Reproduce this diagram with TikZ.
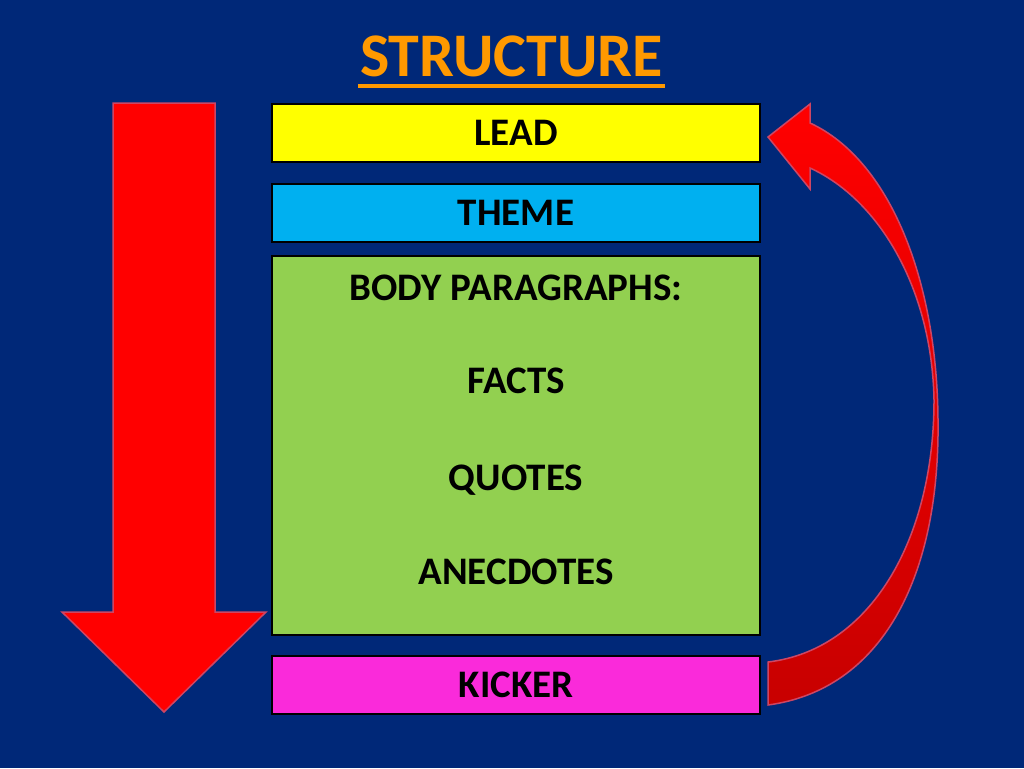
\documentclass[tikz,border=0pt]{standalone}
\usepackage{fontspec}
\setmainfont{Carlito}
\definecolor{bgblue}{RGB}{0,40,120}
\definecolor{leadyellow}{RGB}{255,255,0}
\definecolor{themeblue}{RGB}{0,176,240}
\definecolor{bodygreen}{RGB}{146,208,80}
\definecolor{kickerpink}{RGB}{250,42,218}
\definecolor{titleorange}{RGB}{255,153,0}
\definecolor{arrowred}{RGB}{255,0,0}
\definecolor{arrowdark}{RGB}{200,0,0}
\definecolor{arrowedge}{RGB}{205,70,100}
\tikzset{
  box/.style={draw=black, line width=1.2pt, minimum width=488pt, inner sep=0pt,
    font=\fontsize{39}{47}\selectfont\bfseries, text=black},
  bodytext/.style={anchor=base, font=\fontsize{39}{47}\selectfont\bfseries, text=black, inner sep=0pt},
  redarrow/.style={draw=arrowedge, line width=1.5pt, line join=miter},
}
\begin{document}
\begin{tikzpicture}[x=1pt,y=-1pt]
\useasboundingbox (0,0) rectangle (1024,768);
\fill[bgblue] (0,0) rectangle (1024,768);

% title
\node[anchor=base, inner sep=0pt, text=titleorange, font=\fontsize{62}{70}\selectfont\bfseries] (title) at (511.5,77) {STRUCTURE};
\draw[titleorange, line width=4pt] (358,85.5) -- (665,85.5);

% boxes
\node[box, fill=leadyellow, minimum height=58pt] (lead) at (516,133) {LEAD};
\node[box, fill=themeblue, minimum height=58pt] (theme) at (516,213) {THEME};
\node[box, fill=bodygreen, minimum height=379pt] (body) at (516,445.5) {};
\node[box, fill=kickerpink, minimum height=58pt] (kicker) at (516,685) {KICKER};

\node[bodytext] (bp) at (516,300) {BODY PARAGRAPHS:};
\node[bodytext] (facts) at (516,393.5) {FACTS};
\node[bodytext] (quotes) at (516,490) {QUOTES};
\node[bodytext] (anec) at (516,584.5) {ANECDOTES};

% down arrow
\fill[arrowred, redarrow] (113,103) -- (215,103) -- (215,612) -- (266,612) -- (164,712) -- (62,612) -- (113,612) -- cycle;

% curved arrow from kicker back to lead
\shade[top color=arrowred, bottom color=arrowdark, redarrow]
  (768,705) .. controls (880,690) and (940,580) .. (938,420)
  .. controls (937,280) and (890,160) .. (810,123)
  -- (810,104) -- (768,137) -- (810,189) -- (810,168)
  .. controls (880,200) and (932,290) .. (934,400)
  .. controls (934,540) and (870,650) .. (768,662) -- cycle;
\end{tikzpicture}
\end{document}
